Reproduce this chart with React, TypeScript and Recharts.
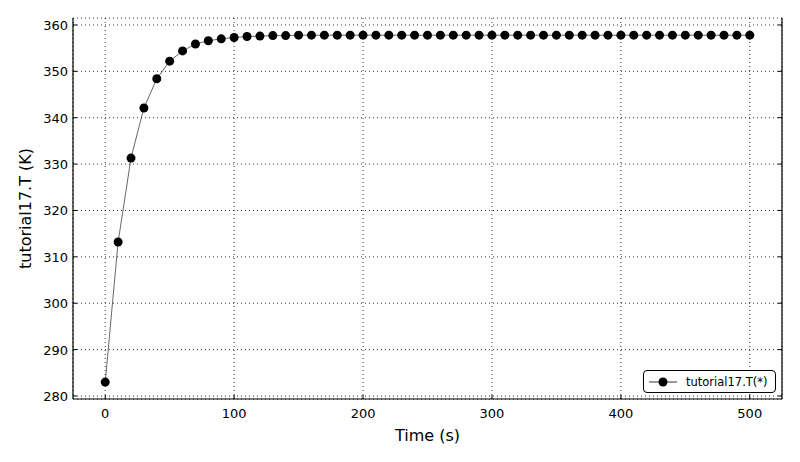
import React from 'react';
import {
  LineChart,
  Line,
  XAxis,
  YAxis,
  CartesianGrid,
} from 'recharts';

const times = [
  0, 10, 20, 30, 40, 50, 60, 70, 80, 90, 100, 110, 120, 130, 140, 150, 160, 170, 180, 190, 200,
  210, 220, 230, 240, 250, 260, 270, 280, 290, 300, 310, 320, 330, 340, 350, 360, 370, 380, 390,
  400, 410, 420, 430, 440, 450, 460, 470, 480, 490, 500,
];
const temps = [
  283.0, 313.2, 331.3, 342.1, 348.4, 352.2, 354.4, 355.9, 356.6, 357.0, 357.3, 357.5, 357.6, 357.7,
  357.7, 357.8, 357.8, 357.8, 357.8, 357.8, 357.8, 357.8, 357.8, 357.8, 357.8, 357.8, 357.8, 357.8,
  357.8, 357.8, 357.8, 357.8, 357.8, 357.8, 357.8, 357.8, 357.8, 357.8, 357.8, 357.8, 357.8, 357.8,
  357.8, 357.8, 357.8, 357.8, 357.8, 357.8, 357.8, 357.8, 357.8,
];
const xTicks = [0, 100, 200, 300, 400, 500];
const yTicks = [280, 290, 300, 310, 320, 330, 340, 350, 360];
const seriesName = 'tutorial17.T(*)';

const data = times.map((t, i) => ({ t, T: temps[i] }));

const FONT = 'DejaVu Sans, sans-serif';

const BottomTick = (props: any) => {
  const { x, y, payload } = props;
  return (
    <g>
      <line x1={x} y1={y} x2={x} y2={y - 4} stroke="#000" strokeWidth={1} />
      <text x={x} y={y + 19} textAnchor="middle" fontSize={13} fontFamily={FONT} fill="#000">
        {payload.value}
      </text>
    </g>
  );
};

const TopTick = (props: any) => {
  const { x, y } = props;
  return <line x1={x} y1={y} x2={x} y2={y + 4} stroke="#000" strokeWidth={1} />;
};

const LeftTick = (props: any) => {
  const { x, y, payload } = props;
  return (
    <g>
      <line x1={x} y1={y} x2={x + 4} y2={y} stroke="#000" strokeWidth={1} />
      <text x={x - 5} y={y + 5} textAnchor="end" fontSize={13} fontFamily={FONT} fill="#000">
        {payload.value}
      </text>
    </g>
  );
};

const RightTick = (props: any) => {
  const { x, y } = props;
  return <line x1={x} y1={y} x2={x - 4} y2={y} stroke="#000" strokeWidth={1} />;
};

const LegendBox = () => (
  <div
    style={{
      position: 'absolute',
      left: 643,
      top: 370,
      border: '1px solid #000',
      borderRadius: 4,
      background: '#fff',
      width: 133,
      height: 23,
      display: 'flex',
      alignItems: 'center',
      fontFamily: FONT,
      fontSize: 11.5,
      boxSizing: 'border-box',
    }}
  >
    <svg width={36} height={12} style={{ marginLeft: 3 }}>
      <line x1={2} y1={6} x2={30} y2={6} stroke="#000" strokeWidth={0.8} />
      <circle cx={16} cy={6} r={4.5} fill="#000" />
    </svg>
    <span style={{ marginLeft: 3 }}>{seriesName}</span>
  </div>
);

export default function App() {
  return (
    <div style={{ position: 'absolute', left: 0, top: 0, width: 800, height: 462, background: '#fff' }}>
      <LineChart
        width={800}
        height={462}
        data={data}
        margin={{ top: 18, right: 0, bottom: 0, left: 0 }}
      >
        <CartesianGrid
          xAxisId="b"
          yAxisId="l"
          stroke="#000"
          strokeDasharray="1 3"
          strokeWidth={0.8}
        />
        <XAxis
          xAxisId="b"
          dataKey="t"
          type="number"
          domain={[-25, 525]}
          ticks={xTicks}
          allowDataOverflow
          height={63}
          tickSize={0}
          tickMargin={0}
          tickLine={false}
          axisLine={{ stroke: '#000', strokeWidth: 1.2 }}
          tick={<BottomTick />}
          label={{ value: 'Time (s)', position: 'insideBottom', offset: 21, fontSize: 16, fontFamily: FONT, fill: '#000' }}
        />
        <XAxis
          xAxisId="t"
          orientation="top"
          dataKey="t"
          type="number"
          domain={[-25, 525]}
          ticks={xTicks}
          allowDataOverflow
          height={0}
          tickSize={0}
          tickMargin={0}
          tickLine={false}
          axisLine={{ stroke: '#000', strokeWidth: 1.2 }}
          tick={<TopTick />}
        />
        <YAxis
          yAxisId="l"
          type="number"
          domain={[279.35, 361.5]}
          ticks={yTicks}
          allowDataOverflow
          width={73}
          tickSize={0}
          tickMargin={0}
          tickLine={false}
          axisLine={{ stroke: '#000', strokeWidth: 1.2 }}
          tick={<LeftTick />}
          label={{ value: 'tutorial17.T (K)', angle: -90, position: 'insideLeft', offset: 25, fontSize: 16, fontFamily: FONT, fill: '#000', style: { textAnchor: 'middle' } }}
        />
        <YAxis
          yAxisId="r"
          orientation="right"
          type="number"
          domain={[279.35, 361.5]}
          ticks={yTicks}
          allowDataOverflow
          width={18}
          tickSize={0}
          tickMargin={0}
          tickLine={false}
          axisLine={{ stroke: '#000', strokeWidth: 1.2 }}
          tick={<RightTick />}
        />
        <Line
          xAxisId="b"
          yAxisId="l"
          dataKey="T"
          name={seriesName}
          stroke="#000"
          strokeWidth={0.6}
          dot={{ r: 4.5, fill: '#000', stroke: '#000', strokeWidth: 0 }}
          activeDot={false}
          isAnimationActive={false}
        />
      </LineChart>
      <LegendBox />
    </div>
  );
}
